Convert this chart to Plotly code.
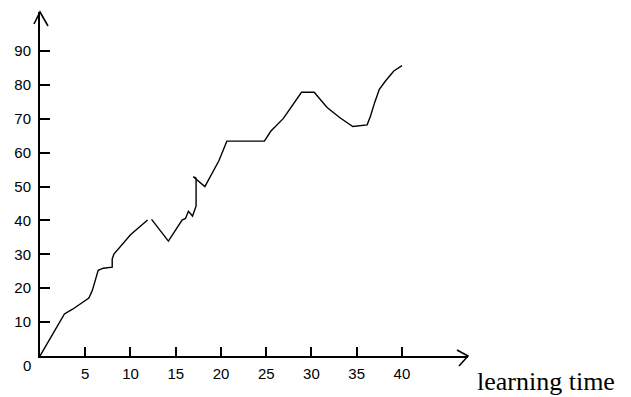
import plotly.graph_objects as go

# ---- data ----
time_vals = [0, 2.7, 3.6, 4.9, 5.4, 5.78, 6.24, 6.43, 7.0, 7.98, 7.98, 8.17, 10.0, 11.89,
             None,
             12.33, 14.19, 15.7, 16.08, 16.4, 16.86, 17.25, 17.25, 16.94, 18.22, 19.77,
             20.65, 24.8, 25.5, 26.9, 28.9, 30.3, 31.73, 33.15, 34.57, 36.15, 36.5,
             37.0, 37.5, 38.2, 39.1, 40.0]
score_vals = [0, 12.4, 13.8, 16.0, 17.1, 19.3, 23.9, 25.3, 25.9, 26.2, 28.6, 30.1, 35.8, 40.1,
              None,
              40.3, 33.9, 40.1, 40.6, 42.7, 41.3, 44.3, 52.5, 52.9, 50.0, 57.6,
              63.4, 63.4, 66.3, 70.1, 77.8, 77.8, 73.3, 70.3, 67.7, 68.2, 70.6,
              74.9, 78.7, 81.2, 84.1, 85.7]
x_ticks = [5, 10, 15, 20, 25, 30, 35, 40]
y_ticks = [10, 20, 30, 40, 50, 60, 70, 80, 90]
x_title = "learning time"

X_MAX = 47.3
Y_MAX = 101.5
tick_font = dict(family="Liberation Sans", size=15, color="black")

fig = go.Figure()
fig.add_trace(go.Scatter(x=time_vals, y=score_vals, mode="lines",
                         line=dict(color="black", width=1.4),
                         connectgaps=False, hoverinfo="skip", showlegend=False))

fig.update_layout(
    width=631, height=397,
    margin=dict(l=40, r=163, t=12, b=41),
    paper_bgcolor="white", plot_bgcolor="white",
    xaxis=dict(range=[0, X_MAX], showgrid=False, zeroline=False,
               showline=True, linecolor="black", linewidth=2,
               ticks="inside", ticklen=9, tickwidth=2, tickcolor="black",
               tickvals=x_ticks, ticktext=[str(v) for v in x_ticks],
               tickfont=tick_font, ticklabelstandoff=3),
    yaxis=dict(range=[0, Y_MAX], showgrid=False, zeroline=False,
               showline=True, linecolor="black", linewidth=2,
               ticks="inside", ticklen=10, tickwidth=2, tickcolor="black",
               tickvals=y_ticks, ticktext=[str(v) for v in y_ticks],
               tickfont=tick_font, ticklabelstandoff=4),
    shapes=[
        dict(type="path", xref="paper", yref="paper", xsizemode="pixel", ysizemode="pixel",
             xanchor=0, yanchor=1, path="M -6,-12 L 0,0 L 8,-14",
             line=dict(color="black", width=1.6)),
        dict(type="path", xref="paper", yref="paper", xsizemode="pixel", ysizemode="pixel",
             xanchor=1, yanchor=0, path="M -11,6 L 0,0 L -9,-10",
             line=dict(color="black", width=1.6)),
    ],
    annotations=[
        dict(x=0, y=0, xref="x", yref="y", text="0", showarrow=False,
             xshift=-13, yshift=-9, font=tick_font),
        dict(x=1, y=0, xref="paper", yref="y", text=x_title, showarrow=False,
             xanchor="left", yanchor="middle", xshift=7, yshift=-25,
             font=dict(family="Liberation Serif", size=26, color="black")),
    ],
)

fig.write_html("out.html", config={"displayModeBar": False},
               post_script="document.body.style.margin='0px';")
